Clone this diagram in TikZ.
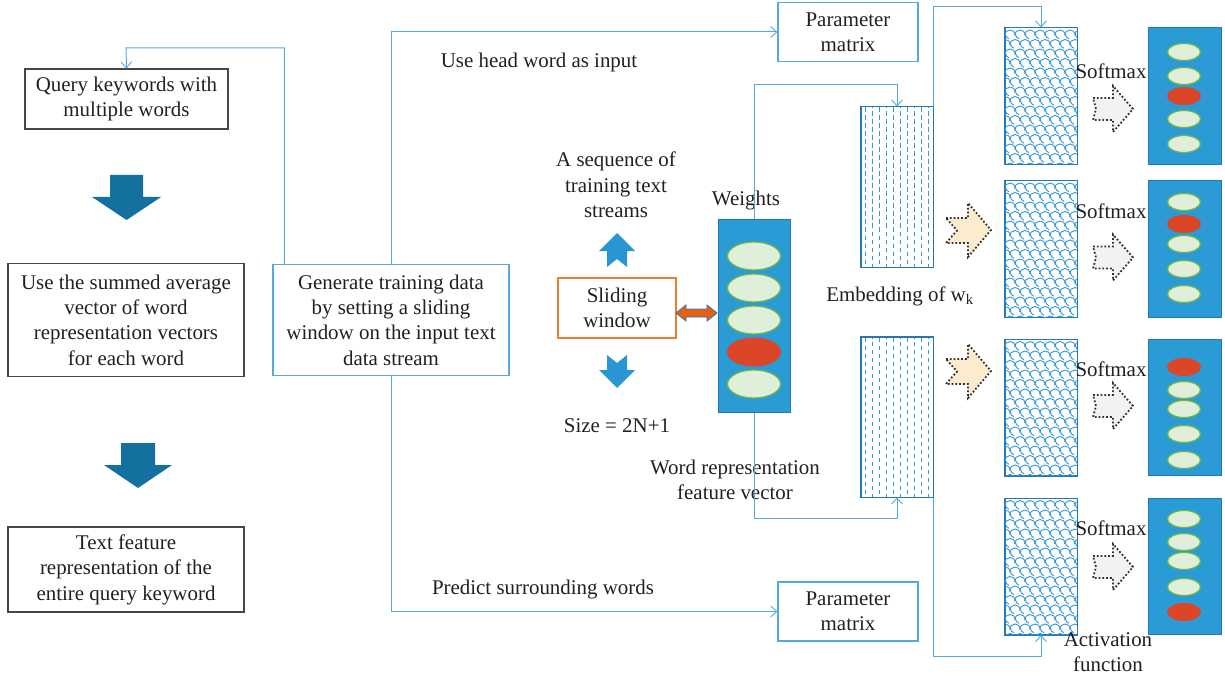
\documentclass[tikz,border=0pt]{standalone}
\usepackage{fontspec}
\setmainfont{Liberation Serif}
\usetikzlibrary{arrows.meta,calc}
\definecolor{txt}{RGB}{35,31,32}
\definecolor{boxgray}{RGB}{70,70,70}
\definecolor{connc}{RGB}{86,168,228}
\definecolor{panelblue}{RGB}{42,155,213}
\definecolor{panelborder}{RGB}{38,120,180}
\definecolor{tealarrow}{RGB}{20,112,158}
\definecolor{arrowblue}{RGB}{40,150,210}
\definecolor{redell}{RGB}{220,70,40}
\definecolor{lgreen}{RGB}{225,238,218}
\definecolor{egreen}{RGB}{110,185,70}
\definecolor{orng}{RGB}{237,125,49}
\definecolor{darr}{RGB}{228,97,20}
\definecolor{darrb}{RGB}{46,117,182}
\definecolor{patblue}{RGB}{50,150,215}
\definecolor{beige}{RGB}{253,235,205}
\definecolor{lgray}{RGB}{242,242,242}
\begin{document}
\begin{tikzpicture}[x=1bp,y=-1bp,
  every node/.style={font=\fontsize{21}{25.5}\selectfont, text=txt},
  lbl/.style={align=center, inner sep=0pt},
  graybox/.style={draw=boxgray, line width=1.1bp, align=center, inner sep=0pt},
  bluebox/.style={draw=connc, line width=1.2bp, align=center, inner sep=0pt},
  orbox/.style={draw=orng, line width=1.2bp, align=center, inner sep=0pt},
  panel/.style={draw=panelborder, fill=panelblue, line width=1bp, inner sep=0pt, minimum width=73bp},
  embbox/.style={draw=panelborder, line width=1bp, inner sep=0pt, minimum width=72bp, minimum height=160bp},
  wavebox/.style={draw=panelborder, line width=1bp, inner sep=0pt, minimum width=72bp, minimum height=136bp},
  conn/.style={draw=connc, line width=1bp},
  tipb/.tip={Straight Barb[length=6bp,width=11bp,line width=0.9bp]},
  ellg/.style={fill=lgreen, draw=egreen, line width=1.2bp},
  ellr/.style={fill=redell, draw=redell, line width=1bp},
  embdash/.style={draw=patblue, line width=1bp, dash pattern=on 4.5bp off 3.5bp},
  wave/.style={draw=patblue, line width=0.9bp},
  beigearrow/.style={fill=beige, draw=black!80, line width=1.8bp, dotted},
  grayarrow/.style={fill=lgray, draw=black!80, line width=1.8bp, dotted}
]
\useasboundingbox (0,0) rectangle (1225,680);

% ---------- left column ----------
\node[graybox, minimum width=203bp, minimum height=60bp] (q1) at (126.5,99) {Query keywords with\\multiple words};
\node[graybox, minimum width=236bp, minimum height=113bp] (q2) at (126,320) {Use the summed average\\vector of word\\representation vectors\\for each word};
\node[graybox, minimum width=236bp, minimum height=85bp] (q3) at (126,569.5) {Text feature\\representation of the\\entire query keyword};
\fill[tealarrow] (110,175) -- (143,175) -- (143,197) -- (161,197) -- (126.5,220) -- (92,197) -- (110,197) -- cycle;
\fill[tealarrow] (121,443) -- (155,443) -- (155,465) -- (172,465) -- (138,488) -- (104,465) -- (121,465) -- cycle;

% ---------- middle ----------
\node[bluebox, minimum width=236bp, minimum height=111bp] (gen) at (391,320) {Generate training data\\by setting a sliding\\window on the input text\\data stream};
\node[bluebox, minimum width=140bp, minimum height=59bp] (pm1) at (848,32) {Parameter\\matrix};
\node[bluebox, minimum width=140bp, minimum height=59bp] (pm2) at (848,611.5) {Parameter\\matrix};
\node[lbl] (uh) at (539,62) {Use head word as input};
\node[lbl] (ps) at (543,589) {Predict surrounding words};

\coordinate (c0) at (126,48);
\draw[conn, -{tipb}] ([xshift=12bp]gen.north west) |- (c0) -- (q1.north);
\draw[conn, -{tipb}] (gen.north) |- (pm1.west);
\draw[conn, -{tipb}] (gen.south) |- (pm2.west);

\node[orbox, minimum width=118bp, minimum height=60bp] (sw) at (617,308) {Sliding\\window};
\node[lbl] (seq) at (616,185) {A sequence of\\training text\\streams};
\node[lbl] (size) at (617,426) {Size = 2N+1};
\fill[arrowblue] (617,233) -- (635,251) -- (627,251) -- (627,267) -- (617,259) -- (607,267) -- (607,251) -- (599,251) -- cycle;
\fill[arrowblue] (617,388) -- (635,370) -- (627,370) -- (627,355) -- (617,363) -- (607,355) -- (607,370) -- (599,370) -- cycle;
\draw[fill=darr, draw=darrb, line width=0.8bp] (676,313) -- (686,305) -- (686,309) -- (707,309) -- (707,305) -- (717,313) -- (707,321) -- (707,317) -- (686,317) -- (686,321) -- cycle;

\node[lbl] (wl) at (746,200) {Weights};
\node[lbl] (wr) at (735,480) {Word representation\\feature vector};
\node[lbl] (emb) at (900,296) {Embedding of w\textsubscript{k}};

% embedding rectangles
\node[embbox] (emb1) at (897,187) {};
\node[embbox] (emb2) at (897,417) {};
\foreach \nm in {emb1,emb2}{
  \begin{scope}
    \clip (\nm.north west) rectangle (\nm.south east);
    \foreach \i in {0,...,9}{
      \pgfmathsetmacro\ph{mod(\i,2)*4}
      \draw[embdash, dash phase=\ph bp] ($(\nm.north west)+(4.5+7*\i,1)$) -- ++(0,160);
    }
  \end{scope}
  \draw[draw=panelborder, line width=1bp] (\nm.north west) rectangle (\nm.south east);
}

% connectors from weights to embeddings
\coordinate (wt) at (754,85);
\coordinate (wb) at (754,518);
\draw[conn, {tipb}-{tipb}] (emb1.north) |- (wt) -- (wb) -| (emb2.south);

% weights panel
\node[panel, minimum width=72bp, minimum height=192bp] (wp) at (754,316) {};
\foreach \ey/\st in {256/ellg,288/ellg,320/ellg,352/ellr,384/ellg}{
  \path[\st] (754,\ey) ellipse [x radius=26.5bp, y radius=14bp];
}

% wave pattern rectangles
\node[wavebox] (r1) at (1041,96) {};
\node[wavebox] (r2) at (1041,249) {};
\node[wavebox] (r3) at (1041,407.5) {};
\node[wavebox] (r4) at (1041,566.5) {};
\foreach \nm in {r1,r2,r3,r4}{
  \begin{scope}
    \clip (\nm.north west) rectangle (\nm.south east);
    \foreach \j in {0,...,14}{
      \foreach \i in {-1,...,7}{
        \pgfmathsetmacro\ox{10*\i+5*mod(\j,2)}
        \draw[wave] ($(\nm.north west)+(\ox,8+9.5*\j)$) arc[start angle=180, end angle=10, radius=5.5bp] arc[start angle=190, end angle=250, radius=5.5bp];
      }
    }
  \end{scope}
  \draw[draw=panelborder, line width=1bp] (\nm.north west) rectangle (\nm.south east);
}

\coordinate (c1) at (1041,7);
\coordinate (c2) at (1041,656);
\draw[conn, -{tipb}] (emb1.north east) |- (c1) -- (r1.north);
\draw[conn, -{tipb}] (emb2.south east) |- (c2) -- (r4.south);

% beige dotted arrows
\path[beigearrow] (946,218) -- (968,218) -- (968,203) -- (991,230) -- (968,257) -- (968,243) -- (946,243) -- (957,230.5) -- cycle;
\path[beigearrow] (946,359) -- (968,359) -- (968,344) -- (991,371) -- (968,398) -- (968,384) -- (946,384) -- (957,371.5) -- cycle;

% output panels
\node[panel, minimum height=136bp] (p1) at (1184.5,96) {};
\node[panel, minimum height=136bp] (p2) at (1184.5,249) {};
\node[panel, minimum height=136bp] (p3) at (1184.5,407.5) {};
\node[panel, minimum height=136bp] (p4) at (1184.5,566.5) {};
\foreach \ey/\st in {52/ellg,76/ellg,96/ellr,119/ellg,144/ellg,
                     202/ellg,224/ellr,244/ellg,269/ellg,294/ellg,
                     367/ellr,390/ellg,409/ellg,434/ellg,460/ellg,
                     519/ellg,542/ellg,561/ellg,587/ellg,612/ellr}{
  \path[\st] (1184,\ey) ellipse [x radius=16.5bp, y radius=8.5bp];
}

% gray dotted arrows
\foreach \cy in {109,257.5,406,567}{
  \path[grayarrow] (1093,\cy-11) -- (1113,\cy-11) -- (1113,\cy-23) -- (1133,\cy) -- (1113,\cy+23) -- (1113,\cy+11) -- (1093,\cy+11) -- (1096,\cy) -- cycle;
}

\node[lbl] (s1) at (1111,71) {Softmax};
\node[lbl] (s2) at (1111,211) {Softmax};
\node[lbl] (s3) at (1111,369) {Softmax};
\node[lbl] (s4) at (1111,528) {Softmax};
\node[lbl] (act) at (1108,652) {Activation\\function};
\end{tikzpicture}
\end{document}
